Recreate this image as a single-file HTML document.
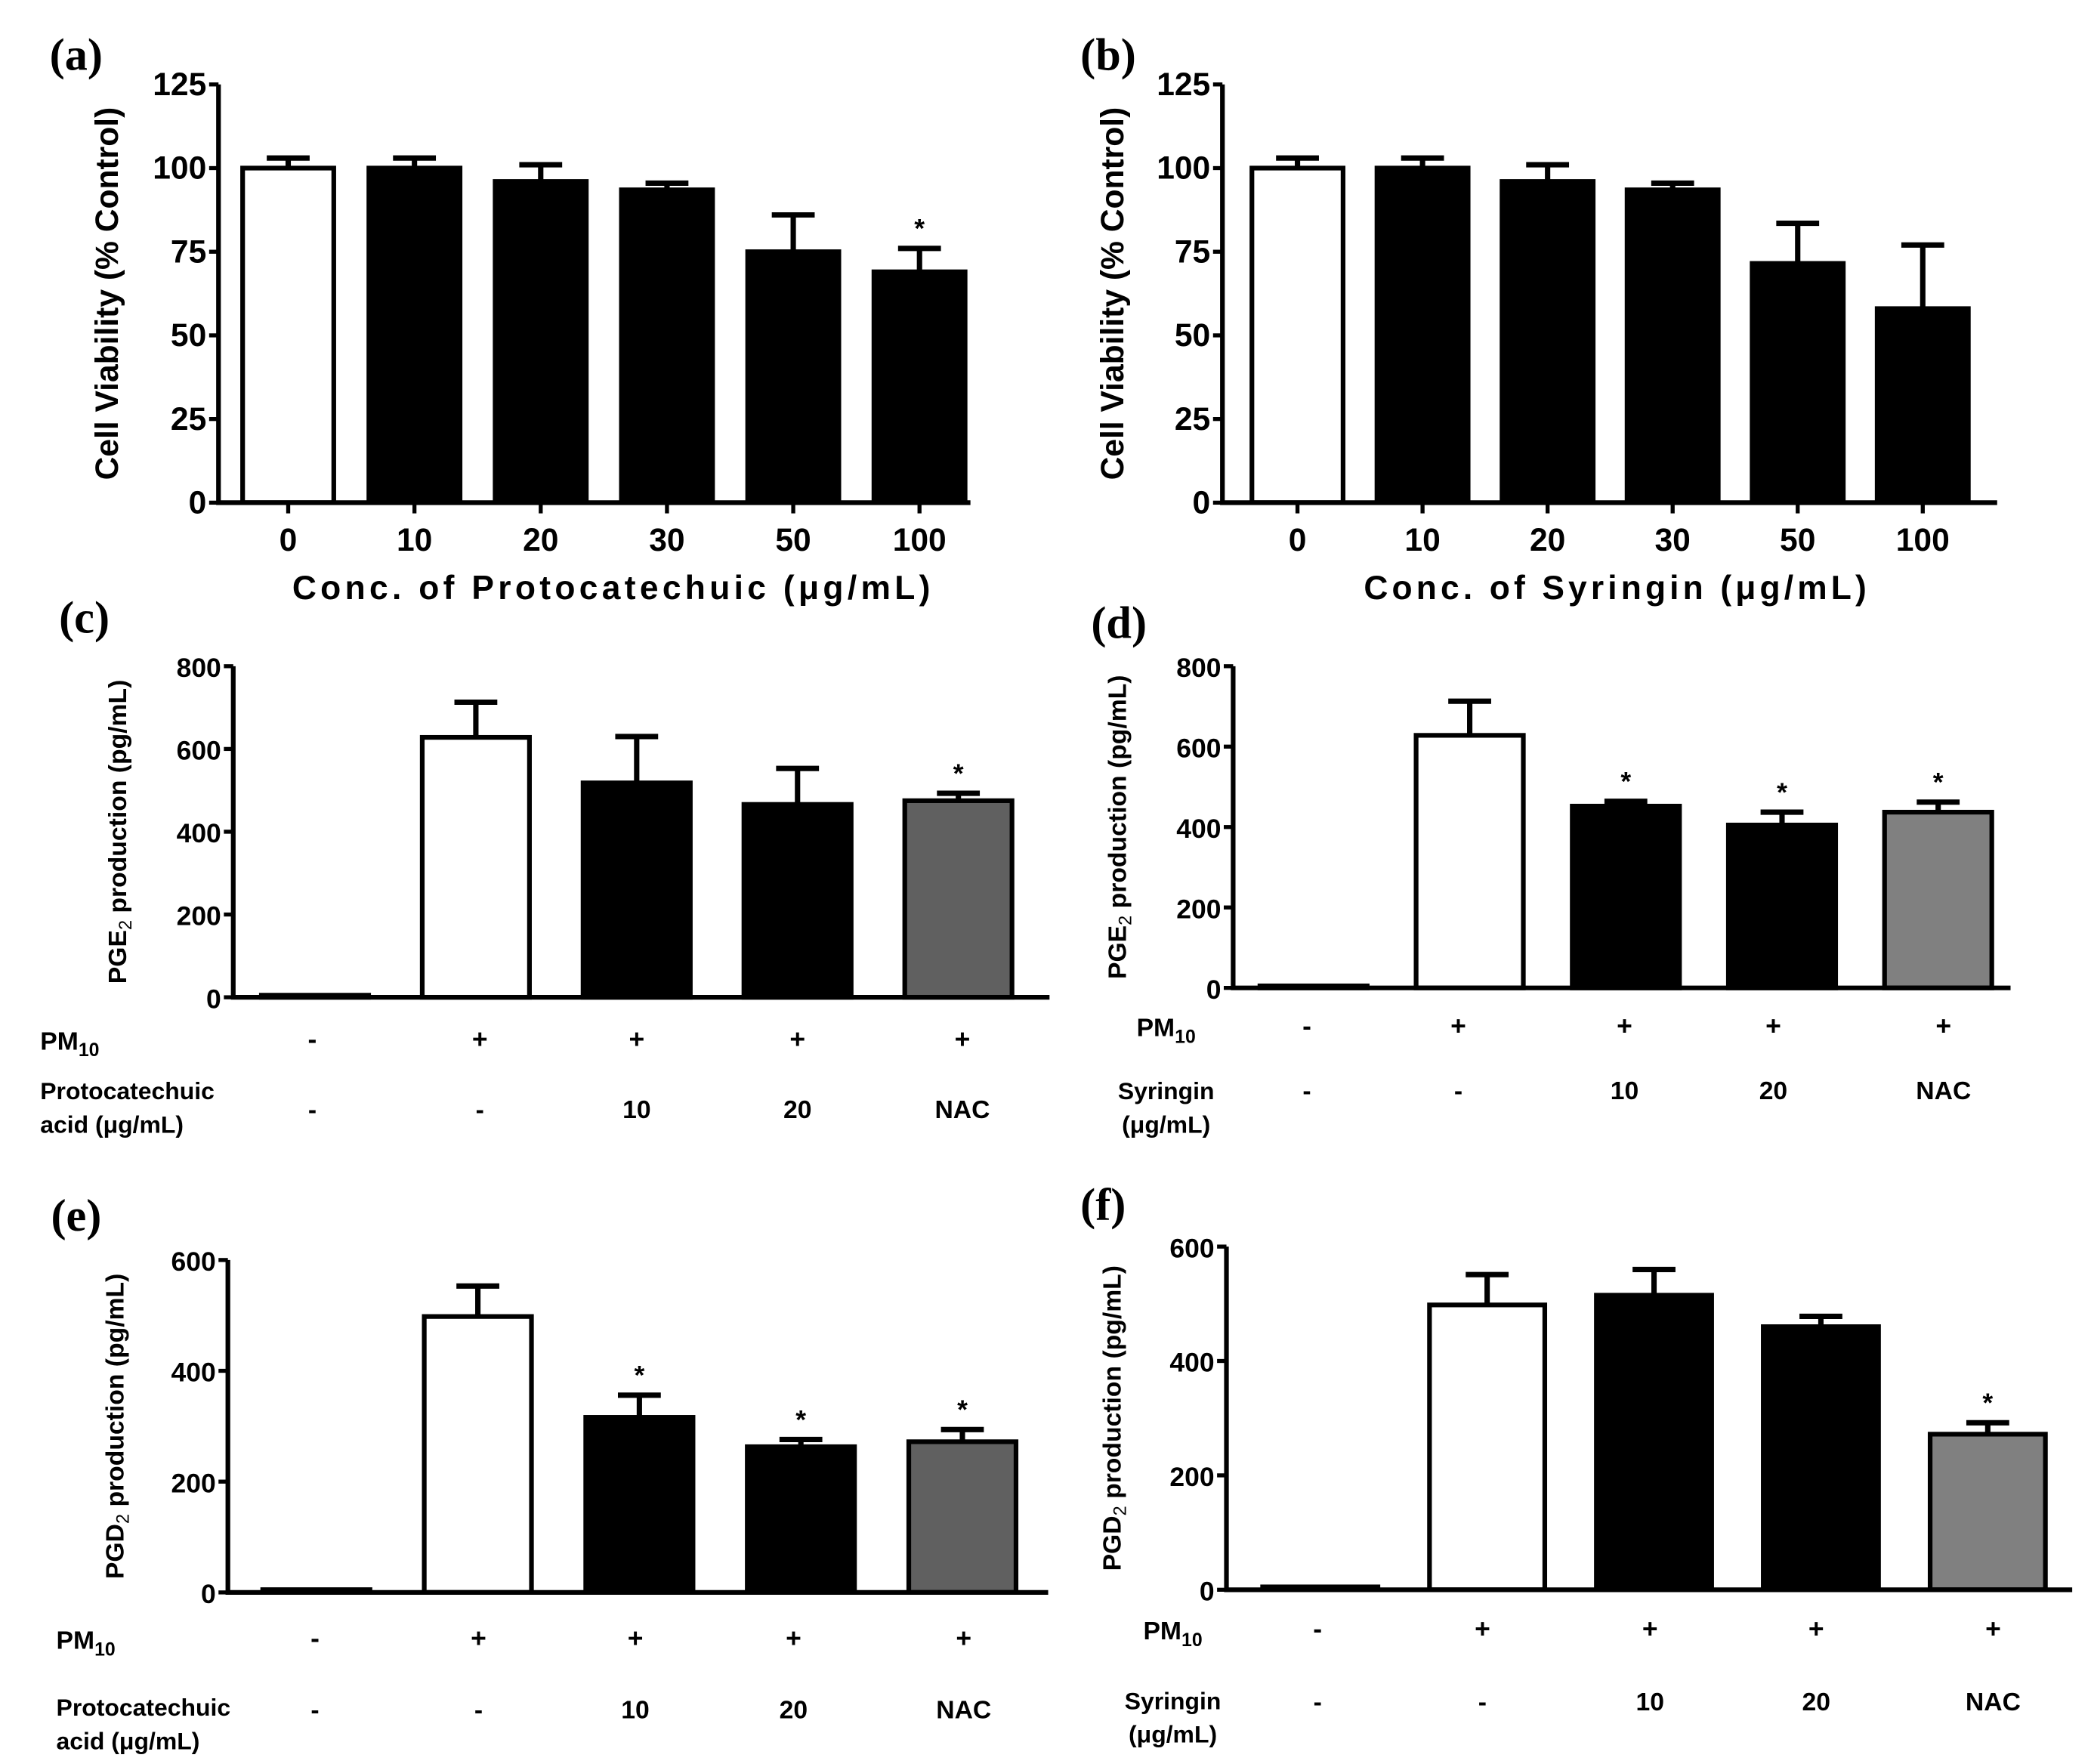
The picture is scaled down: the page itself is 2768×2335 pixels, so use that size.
<!DOCTYPE html>
<html><head><meta charset="utf-8">
<style>
html,body{margin:0;padding:0;background:#fff;}
svg{display:block;}
text{font-family:"Liberation Sans",Arial,sans-serif;font-weight:bold;fill:#000;}
.pl{font-family:"Liberation Serif",serif;font-weight:bold;font-size:34px;}
</style></head>
<body>
<svg id="fig" width="2768" height="2335" viewBox="0 0 1560 1316" xmlns="http://www.w3.org/2000/svg">
<rect width="1560" height="1316" fill="#fff"/>
</svg>
<script>
// ---- Panel (a) data ----
const aCats = ["0","10","20","30","50","100"];
const aMeans = [100, 100, 96, 93.5, 75, 69];
const aErrs = [3, 3, 5, 2, 11, 7];
const aStars = [false,false,false,false,false,true];
const aTicks = [0,25,50,75,100,125];
// ---- Panel (b) data ----
const bCats = ["0","10","20","30","50","100"];
const bMeans = [100, 100, 96, 93.5, 71.5, 58];
const bErrs = [3, 3, 5, 2, 12, 19];
const bStars = [false,false,false,false,false,false];
const bTicks = [0,25,50,75,100,125];
// ---- Panel (c) data ----
const cPM = ["-","+","+","+","+"];
const cDose = ["-","-","10","20","NAC"];
const cMeans = [5, 628, 518, 466, 475];
const cErrs = [0, 85, 112, 87, 18];
const cStars = [false,false,false,false,true];
const cTicks = [0,200,400,600,800];
// ---- Panel (d) data ----
const dPM = ["-","+","+","+","+"];
const dDose = ["-","-","10","20","NAC"];
const dMeans = [5, 628, 452, 405, 437];
const dErrs = [0, 85, 12, 32, 25];
const dStars = [false,false,true,true,true];
const dTicks = [0,200,400,600,800];
// ---- Panel (e) data ----
const ePM = ["-","+","+","+","+"];
const eDose = ["-","-","10","20","NAC"];
const eMeans = [5, 498, 316, 263, 272];
const eErrs = [0, 55, 40, 13, 22];
const eStars = [false,false,true,true,true];
const eTicks = [0,200,400,600];
// ---- Panel (f) data ----
const fPM = ["-","+","+","+","+"];
const fDose = ["-","-","10","20","NAC"];
const fMeans = [5, 498, 515, 460, 272];
const fErrs = [0, 53, 45, 18, 20];
const fStars = [false,false,false,false,true];
const fTicks = [0,200,400,600];

const NS = "http://www.w3.org/2000/svg";
const svg = document.getElementById("fig");
function mk(tag, attrs, parent, txt){
  const el = document.createElementNS(NS, tag);
  for (const k in attrs) el.setAttribute(k, attrs[k]);
  if (txt !== undefined) el.textContent = txt;
  (parent||svg).appendChild(el);
  return el;
}

function drawPanel(p){
  const g = mk("g", {});
  
  
  const yMax = p.ticks[p.ticks.length-1];
  const y = v => p.y0 - (v / yMax) * (p.y0 - p.yTop);
  const x = i => p.xFirst + i * p.step;
  const pl = mk("text", {x:p.lblX, y:p.lblY, class:"pl"}, g, p.letter);
  
  
  p.means.forEach((m, i) => {
    const cx = x(i), w = p.barW;
    const top = y(m);
    const f = p.fills[i];
    const r = mk("rect", {x:cx-w/2, y:top, width:w, height:Math.max(p.y0-top,1), fill:f, stroke:"#000", "stroke-width":3.5}, g);
    
    
    if (p.errs[i] > 0){
      const et = y(m + p.errs[i]);
      const el = mk("path", {d:`M${cx} ${top} V${et} M${cx-16} ${et} H${cx+16}`, stroke:"#000", "stroke-width":4, fill:"none"}, g);
      
      
    }
    if (p.stars[i]){
      const st = mk("text", {x:cx, y:y(m + p.errs[i]) - 8, "text-anchor":"middle", "font-size":20, "font-weight":"normal"}, g, "*");
      
      
    }
  });
  const ax = mk("path", {d:`M${p.axX} ${p.yTop} V${p.y0} H${p.xEnd}`, stroke:"#000", "stroke-width":3.5, fill:"none"}, g);
  
  
  p.ticks.forEach(t => {
    const tk = mk("line", {x1:p.axX-7, x2:p.axX, y1:y(t), y2:y(t), stroke:"#000", "stroke-width":3}, g);
    
    
    const tl = mk("text", {x:p.axX-9, y:y(t)+8, "text-anchor":"end", "font-size":p.tickFs}, g, String(t));
    
    
  });
  const yt = mk("text", {x:0, y:0, "text-anchor":"middle", "font-size":p.yFs, transform:`translate(${p.yTitleX},${(p.yTop+p.y0)/2}) rotate(-90)`}, g);
  
  
  if (p.sub){
    mk("tspan", {}, yt, p.yPre);
    mk("tspan", {"font-size":p.yFs*0.7, "font-weight":"normal", dy:4}, yt, p.sub);
    mk("tspan", {dy:-4}, yt, p.yPost);
  } else {
    yt.textContent = p.yPre;
  }
  if (p.cats){
    p.cats.forEach((c, i) => {
      const tk = mk("line", {x1:x(i), x2:x(i), y1:p.y0, y2:p.y0+8, stroke:"#000", "stroke-width":3}, g);
      
      
      const tl = mk("text", {x:x(i), y:p.y0+36, "text-anchor":"middle", "font-size":24}, g, c);
      
      
    });
    const xt = mk("text", {x:p.xTitleX - p.xTitleW/2, y:p.y0+72, "font-size":25, textLength:p.xTitleW, lengthAdjust:"spacing"}, g, p.xTitle);
    
    
  } else {
    const r1 = mk("text", {x:p.rowLblX, y:p.row1Y+8, "text-anchor":p.rowAnchor, "font-size":19}, g);
    
    
    mk("tspan", {}, r1, "PM");
    mk("tspan", {"font-size":14, dy:5}, r1, "10");
    p.pm.forEach((s, i) => {
      const t = mk("text", {x:p.markX[i], y:p.row1Y+7, "text-anchor":"middle", "font-size":20}, g, s);
      
      
    });
    p.rowLbl.forEach((line, k) => {
      const t = mk("text", {x:p.rowLblX, y:p.row2Y + k*25, "text-anchor":p.rowAnchor, "font-size":18}, g, line);
      
      
    });
    p.dose.forEach((s, i) => {
      const t = mk("text", {x:p.markX[i], y:p.doseY, "text-anchor":"middle", "font-size":19}, g, s);
      
      
    });
  }
}

drawPanel({name:"panel-a", letter:"(a)", lblX:37, lblY:52, means:aMeans, errs:aErrs, stars:aStars, ticks:aTicks,
  fills:["#fff","#000","#000","#000","#000","#000"], axX:163, yTop:63, y0:375, xEnd:724, xFirst:215, step:94.2, barW:68,
  tickFs:24, yFs:24, yTitleX:88, yPre:"Cell Viability (% Control)", cats:aCats, xTitle:"Conc. of Protocatechuic (\u03bcg/mL)", xTitleX:456, xTitleW:476});
drawPanel({name:"panel-b", letter:"(b)", lblX:806, lblY:52, means:bMeans, errs:bErrs, stars:bStars, ticks:bTicks,
  fills:["#fff","#000","#000","#000","#000","#000"], axX:912, yTop:63, y0:375, xEnd:1490, xFirst:968, step:93.3, barW:68,
  tickFs:24, yFs:24, yTitleX:838, yPre:"Cell Viability (% Control)", cats:bCats, xTitle:"Conc. of Syringin (\u03bcg/mL)", xTitleX:1205, xTitleW:375});
drawPanel({name:"panel-c", letter:"(c)", lblX:44, lblY:472, means:cMeans, errs:cErrs, stars:cStars, ticks:cTicks,
  fills:["#000","#fff","#000","#000","#606060"], axX:174, yTop:497, y0:744, xEnd:783, xFirst:235, step:120, barW:80,
  tickFs:20, yFs:19, yTitleX:94, yPre:"PGE", sub:"2", yPost:" production (pg/mL)",
  pm:cPM, dose:cDose, markX:[233,358,475,595,718], rowLblX:30, rowAnchor:"start", row1Y:775, row2Y:820, doseY:834,
  rowLbl:["Protocatechuic","acid (\u03bcg/mL)"]});
drawPanel({name:"panel-d", letter:"(d)", lblX:814, lblY:476, means:dMeans, errs:dErrs, stars:dStars, ticks:dTicks,
  fills:["#000","#fff","#000","#000","#808080"], axX:920, yTop:497, y0:737, xEnd:1500, xFirst:980, step:116.5, barW:80,
  tickFs:20, yFs:19, yTitleX:840, yPre:"PGE", sub:"2", yPost:" production (pg/mL)",
  pm:dPM, dose:dDose, markX:[975,1088,1212,1323,1450], rowLblX:870, rowAnchor:"middle", row1Y:765, row2Y:820, doseY:820,
  rowLbl:["Syringin","(\u03bcg/mL)"]});
drawPanel({name:"panel-e", letter:"(e)", lblX:38, lblY:918, means:eMeans, errs:eErrs, stars:eStars, ticks:eTicks,
  fills:["#000","#fff","#000","#000","#606060"], axX:170, yTop:940, y0:1188, xEnd:782, xFirst:236, step:120.5, barW:80,
  tickFs:20, yFs:19, yTitleX:92, yPre:"PGD", sub:"2", yPost:" production (pg/mL)",
  pm:ePM, dose:eDose, markX:[235,357,474,592,719], rowLblX:42, rowAnchor:"start", row1Y:1222, row2Y:1280, doseY:1282,
  rowLbl:["Protocatechuic","acid (\u03bcg/mL)"]});
drawPanel({name:"panel-f", letter:"(f)", lblX:806, lblY:910, means:fMeans, errs:fErrs, stars:fStars, ticks:fTicks,
  fills:["#000","#fff","#000","#000","#808080"], axX:915, yTop:930, y0:1186, xEnd:1546, xFirst:985, step:124.5, barW:86,
  tickFs:20, yFs:19, yTitleX:836, yPre:"PGD", sub:"2", yPost:" production (pg/mL)",
  pm:fPM, dose:fDose, markX:[983,1106,1231,1355,1487], rowLblX:875, rowAnchor:"middle", row1Y:1215, row2Y:1275, doseY:1276,
  rowLbl:["Syringin","(\u03bcg/mL)"]});
</script>
</body></html>
